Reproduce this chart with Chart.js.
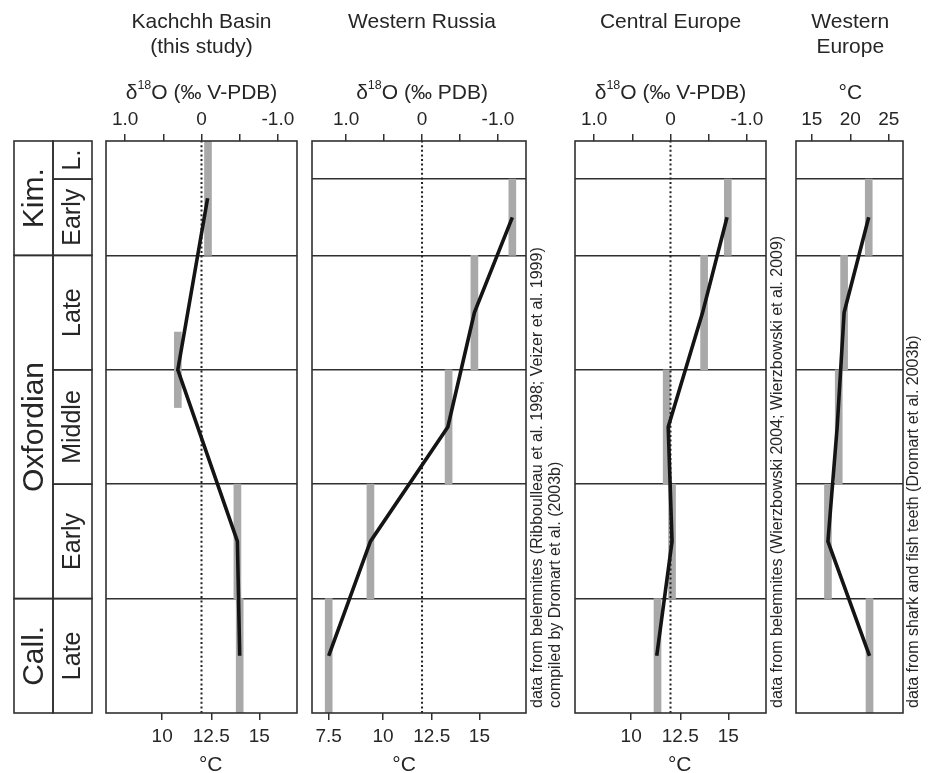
<!DOCTYPE html>
<html>
<head>
<meta charset="utf-8">
<script src="https://cdn.jsdelivr.net/npm/chart.js@4"></script>
<style>
  body { margin: 0; background: #fff; }
  #wrap { position: relative; width: 931px; height: 773px; }
  #wrap canvas { position: absolute; left: 0; top: 0; }
</style>
</head>
<body>
<div id="wrap">
  <canvas id="col" width="931" height="773"></canvas>
  <canvas id="kachchh" width="931" height="773"></canvas>
  <canvas id="russia" width="931" height="773"></canvas>
  <canvas id="central" width="931" height="773"></canvas>
  <canvas id="western" width="931" height="773"></canvas>
</div>
<script>
// Stratigraphy: y = 0 at base of Late Callovian, one unit per substage
const stageNames = ["Call.", "Oxfordian", "Kim."]
const stageFrom = [0, 1, 4]
const stageTo = [1, 4, 5]
const substageNames = ["Late", "Early", "Middle", "Late", "Early", "L."]
const substageFrom = [0, 1, 2, 3, 4, 4.667]
const substageTo = [1, 2, 3, 4, 4.667, 5]

// Axis ticks
const deltaTicks = [1.0, 0.5, 0, -0.5, -1.0]
const deltaTickLabels = ["1.0", "", "0", "", "-1.0"]
const tempTicks = [7.5, 10, 12.5, 15]
const tempTickDelta = [1.23, 0.515, -0.128, -0.756] // where each °C tick sits on the δ18O axis
const weTicks = [15, 20, 25]
const weTickLabels = ["15", "20", "25"]

// Kachchh Basin (δ18O)
const kachchhLineY = [4.5, 3, 1.5, 0.5]
const kachchhLineD = [-0.08, 0.31, -0.47, -0.5]
const kachchhBarD = [-0.085, 0.31, -0.47, -0.5]
const kachchhBarFrom = [4, 2.67, 1, 0]
const kachchhBarTo = [5, 3.33, 2, 1]

// Western Russia (δ18O)
const russiaLineY = [4.333, 3.5, 2.5, 1.5, 0.5]
const russiaLineD = [-1.19, -0.69, -0.34, 0.68, 1.23]
const russiaBarD = [-1.19, -0.69, -0.35, 0.68, 1.23]
const russiaBarFrom = [4, 3, 2, 1, 0]
const russiaBarTo = [4.667, 4, 3, 2, 1]

// Central Europe (δ18O)
const centralLineY = [4.333, 3.5, 2.5, 1.5, 0.5]
const centralLineD = [-0.74, -0.42, 0.03, -0.02, 0.18]
const centralBarD = [-0.75, -0.44, 0.05, -0.02, 0.17]
const centralBarFrom = [4, 3, 2, 1, 0]
const centralBarTo = [4.667, 4, 3, 2, 1]

// Western Europe (°C)
const westLineY = [4.333, 3.5, 2.5, 1.5, 0.5]
const westLineT = [22.4, 19.2, 18.3, 17.1, 22.5]
const westBarT = [22.4, 19.2, 18.5, 17.1, 22.5]
const westBarFrom = [4, 3, 2, 1, 0]
const westBarTo = [4.667, 4, 3, 2, 1]

const family = '"Liberation Sans", Arial, Helvetica, sans-serif'
const ink = "#303030"
const textColor = "#262626"
const barGray = "#a9a9a9"

Chart.defaults.font.family = family
Chart.defaults.color = textColor
Chart.defaults.animation = false

// draws "δ" + superscript "18" + rest, centred on cx
function drawRich(ctx, parts, cx, cy) {
  let total = 0
  parts.forEach((p) => {
    ctx.font = p.size + "px " + family
    total += ctx.measureText(p.text).width
  })
  let x = cx - total / 2
  ctx.textAlign = "left"
  parts.forEach((p) => {
    ctx.font = p.size + "px " + family
    ctx.fillText(p.text, x, cy + (p.dy || 0))
    x += ctx.measureText(p.text).width
  })
}

function decorPlugin(p) {
  return {
    id: "decor",
    afterDraw(chart) {
      const { ctx, chartArea: a } = chart
      ctx.save()
      ctx.strokeStyle = ink
      ctx.lineWidth = 1.6
      ctx.strokeRect(a.left, a.top, a.right - a.left, a.bottom - a.top)

      ctx.fillStyle = textColor
      ctx.textBaseline = "middle"
      const cx = chart.scales.x.getPixelForValue(p.centerValue)
      ctx.textAlign = "center"
      ctx.font = "21px " + family
      p.headings.forEach((h, i) => ctx.fillText(h, cx, 22.5 + i * 25))
      drawRich(ctx, p.axisTitle, cx, 93)

      const t = chart.scales.t
      if (t) {
        const x0 = t.getPixelForValue(t.ticks[0].value)
        const x1 = t.getPixelForValue(t.ticks[t.ticks.length - 1].value)
        ctx.textAlign = "center"
        ctx.font = "21px " + family
        ctx.fillText("°C", (x0 + x1) / 2, 765)
      }

      ctx.font = "16px " + family
      ctx.textAlign = "left"
      p.notes.forEach((n, i) => {
        ctx.save()
        ctx.translate(a.right + p.noteOffsets[i], 708)
        ctx.rotate(-Math.PI / 2)
        ctx.fillText(n, 0, 0)
        ctx.restore()
      })
      ctx.restore()
    },
  }
}

function makePanel(id, p) {
  const scales = {
    x: {
      type: "linear",
      position: "top",
      min: p.min,
      max: p.max,
      reverse: p.reverse,
      offset: false,
      afterBuildTicks: (s) => {
        s.ticks = p.topTicks.map((v) => ({ value: v }))
      },
      afterFit: (s) => {
        s.height = 141
      },
      ticks: {
        callback: (v, i) => p.topLabels[i],
        autoSkip: false,
        maxRotation: 0,
        padding: 3,
        font: { size: 19 },
      },
      grid: { offset: false, drawOnChartArea: false, tickLength: 7, color: ink, lineWidth: 1.5 },
      border: { display: false },
    },
    y: {
      type: "linear",
      min: 0,
      max: 5,
      z: 1,
      afterBuildTicks: (s) => {
        s.ticks = p.bounds.map((v) => ({ value: v }))
      },
      afterFit: (s) => {
        s.width = 0
      },
      ticks: { display: false },
      grid: { drawTicks: false, color: ink, lineWidth: 1.5 },
      border: { display: false },
    },
  }
  if (p.tempShown) {
    scales.t = {
      type: "linear",
      axis: "x",
      position: "bottom",
      display: true,
      min: p.min,
      max: p.max,
      reverse: p.reverse,
      offset: false,
      afterBuildTicks: (s) => {
        s.ticks = p.tempShown.map((t) => ({ value: tempTickDelta[tempTicks.indexOf(t)] }))
      },
      afterFit: (s) => {
        s.height = 60
      },
      ticks: {
        callback: (v, i) => String(p.tempShown[i]),
        autoSkip: false,
        maxRotation: 0,
        padding: 5,
        font: { size: 19 },
      },
      grid: { offset: false, drawOnChartArea: false, tickLength: 7, color: ink, lineWidth: 1.5 },
      border: { display: false },
    }
  }

  const datasets = [
    {
      type: "line",
      xAxisID: "x",
      yAxisID: "y",
      data: p.lineX.map((x, i) => ({ x, y: p.lineY[i] })),
      borderColor: "#141414",
      borderWidth: 3.6,
      pointRadius: 0,
      tension: 0,
    },
  ]
  if (p.dotted) {
    datasets.push({
      type: "line",
      xAxisID: "x",
      yAxisID: "y",
      data: [
        { x: 0, y: 0 },
        { x: 0, y: 5 },
      ],
      borderColor: "#222",
      borderWidth: 2,
      borderDash: [2, 2.6],
      pointRadius: 0,
    })
  }
  datasets.push({
    type: "bar",
    xAxisID: "x",
    yAxisID: "y",
    data: p.barX.map((x, i) => ({ x, y: [p.barFrom[i], p.barTo[i]] })),
    backgroundColor: barGray,
    borderWidth: 0,
    barThickness: 7,
  })

  return new Chart(document.getElementById(id), {
    type: "line",
    data: { datasets },
    options: {
      responsive: false,
      animation: false,
      events: [],
      layout: {
        padding: { left: p.left, right: 931 - p.right, top: 0, bottom: p.tempShown ? 0 : 60 },
      },
      plugins: { legend: { display: false }, tooltip: { enabled: false } },
      scales,
    },
    plugins: [decorPlugin(p)],
  })
}

// Stratigraphic column
const columnPlugin = {
  id: "column",
  afterDraw(chart) {
    const { ctx } = chart
    const xs = chart.scales.x
    const ys = chart.scales.y
    ctx.save()
    ctx.strokeStyle = ink
    ctx.lineWidth = 1.6
    ctx.fillStyle = textColor
    ctx.textAlign = "center"
    ctx.textBaseline = "middle"
    const cell = (x0, x1, y0, y1, label, size) => {
      const l = xs.getPixelForValue(x0)
      const r = xs.getPixelForValue(x1)
      const b = ys.getPixelForValue(y0)
      const t = ys.getPixelForValue(y1)
      ctx.strokeRect(l, t, r - l, b - t)
      ctx.save()
      ctx.translate((l + r) / 2 + 1, (t + b) / 2)
      ctx.rotate(-Math.PI / 2)
      ctx.font = size + "px " + family
      ctx.fillText(label, 0, 0)
      ctx.restore()
    }
    stageNames.forEach((n, i) => cell(0, 1, stageFrom[i], stageTo[i], n, 30))
    substageNames.forEach((n, i) => cell(1, 2, substageFrom[i], substageTo[i], n, 25))
    ctx.restore()
  },
}

new Chart(document.getElementById("col"), {
  type: "line",
  data: { datasets: [] },
  options: {
    responsive: false,
    animation: false,
    events: [],
    layout: { padding: { left: 14, right: 931 - 92, top: 141, bottom: 60 } },
    plugins: { legend: { display: false }, tooltip: { enabled: false } },
    scales: {
      x: { type: "linear", display: false, min: 0, max: 2 },
      y: { type: "linear", display: false, min: 0, max: 5 },
    },
  },
  plugins: [columnPlugin],
})

const deltaTitle = (rest) => [
  { text: "δ", size: 21 },
  { text: "18", size: 12.5, dy: -7 },
  { text: rest, size: 21 },
]

makePanel("kachchh", {
  left: 106, right: 297, min: -1.25, max: 1.25, reverse: true,
  topTicks: deltaTicks, topLabels: deltaTickLabels, tempShown: [10, 12.5, 15],
  bounds: [1, 2, 3, 4], dotted: true, centerValue: 0,
  lineX: kachchhLineD, lineY: kachchhLineY,
  barX: kachchhBarD, barFrom: kachchhBarFrom, barTo: kachchhBarTo,
  headings: ["Kachchh Basin", "(this study)"],
  axisTitle: deltaTitle("O (‰ V-PDB)"),
  notes: [], noteOffsets: [],
})

makePanel("russia", {
  left: 312, right: 526, min: -1.37, max: 1.45, reverse: true,
  topTicks: deltaTicks, topLabels: deltaTickLabels, tempShown: [7.5, 10, 12.5, 15],
  bounds: [1, 2, 3, 4, 4.667], dotted: true, centerValue: 0,
  lineX: russiaLineD, lineY: russiaLineY,
  barX: russiaBarD, barFrom: russiaBarFrom, barTo: russiaBarTo,
  headings: ["Western Russia"],
  axisTitle: deltaTitle("O (‰ PDB)"),
  notes: ["data from belemnites (Ribboulleau et al. 1998; Veizer et al. 1999)", "compiled by Dromart et al. (2003b)"],
  noteOffsets: [11.5, 30],
})

makePanel("central", {
  left: 575, right: 766, min: -1.25, max: 1.25, reverse: true,
  topTicks: deltaTicks, topLabels: deltaTickLabels, tempShown: [10, 12.5, 15],
  bounds: [1, 2, 3, 4, 4.667], dotted: true, centerValue: 0,
  lineX: centralLineD, lineY: centralLineY,
  barX: centralBarD, barFrom: centralBarFrom, barTo: centralBarTo,
  headings: ["Central Europe"],
  axisTitle: deltaTitle("O (‰ V-PDB)"),
  notes: ["data from belemnites (Wierzbowski 2004; Wierzbowski et al. 2009)"],
  noteOffsets: [11.5],
})

makePanel("western", {
  left: 796, right: 903, min: 12.95, max: 26.85, reverse: false,
  topTicks: weTicks, topLabels: weTickLabels, tempShown: null,
  bounds: [1, 2, 3, 4, 4.667], dotted: false, centerValue: 20,
  lineX: westLineT, lineY: westLineY,
  barX: westBarT, barFrom: westBarFrom, barTo: westBarTo,
  headings: ["Western", "Europe"],
  axisTitle: [{ text: "°C", size: 21 }],
  notes: ["data from shark and fish teeth (Dromart et al. 2003b)"],
  noteOffsets: [11],
})
</script>
</body>
</html>
